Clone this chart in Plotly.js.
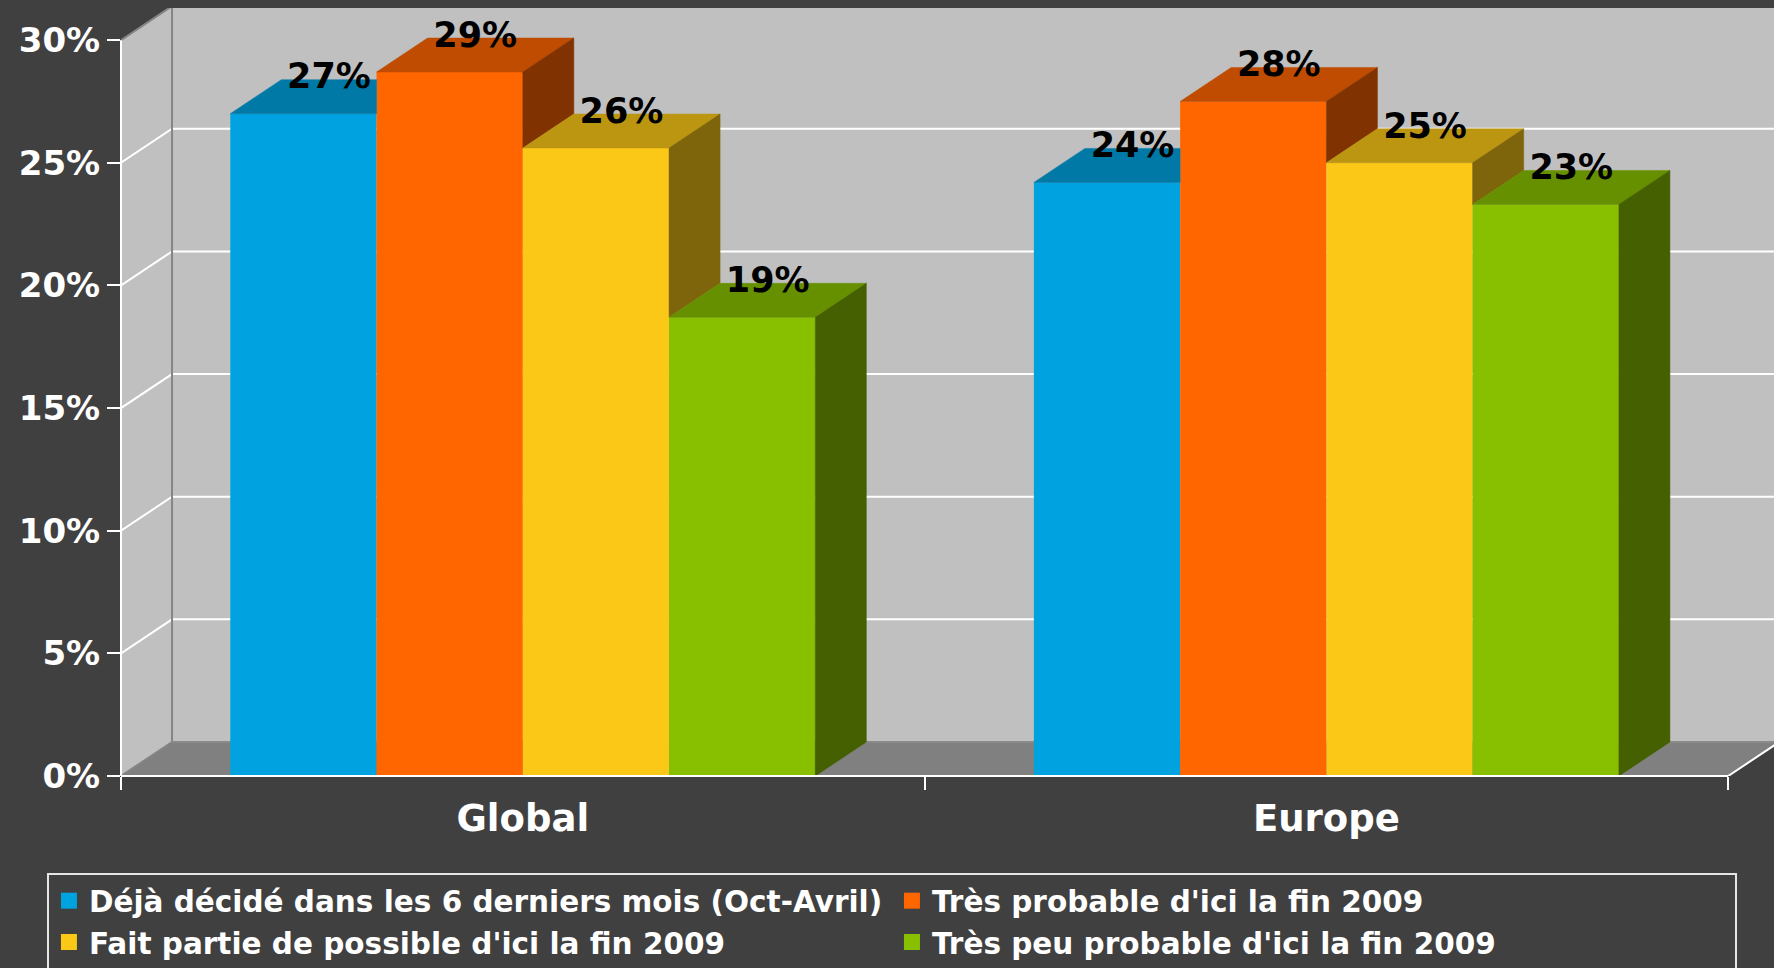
<!DOCTYPE html>
<html><head><meta charset="utf-8">
<script src="https://cdn.plot.ly/plotly-3.0.1.min.js"></script>
<style>html,body{margin:0;padding:0;background:#404040;}#chart{width:1774px;height:968px;}</style>
</head><body><div id="chart"></div>
<script>
// ---------- data ----------
const categories = ['Global', 'Europe'];
const seriesNames = [
  "Déjà décidé dans les 6 derniers mois (Oct-Avril)",
  "Très probable d'ici la fin 2009",
  "Fait partie de possible d'ici la fin 2009",
  "Très peu probable d'ici la fin 2009"
];
const dejaDecide      = [27.0, 24.2];
const tresProbable    = [28.7, 27.5];
const faitPartie      = [25.6, 25.0];
const tresPeuProbable = [18.7, 23.3];
const yTickValues = [0, 5, 10, 15, 20, 25, 30];
const yTickLabels = ['0%', '5%', '10%', '15%', '20%', '25%', '30%'];

// ---------- styles ----------
const frontColors = ['#00A2DF', '#FF6600', '#FCC817', '#88C000'];
const topColors   = ['#0079A7', '#BF4C00', '#BD9611', '#669000'];
const sideColors  = ['#005170', '#803300', '#7E640B', '#446000'];
const FONT = 'DejaVu Sans, Verdana, sans-serif';

const series = [dejaDecide, tresProbable, faitPartie, tresPeuProbable];
const catX = categories.map((c, i) => i);
const BW = 0.182;          // bar width (x units)
const DX = 0.0635;         // depth offset x (x units)
const DY = 1.386;          // depth offset y (percent units)
const X0 = -0.5, X1 = 1.5, XR = 1.557;
const YTOP = 30, YR = 31.31;
const XW = XR + 0.2;

const traces = [];

// front faces: real bar traces
series.forEach((vals, k) => {
  traces.push({
    type: 'bar', x: catX, y: vals, width: BW, offset: (k - 2) * BW,
    marker: {color: frontColors[k], line: {width: 0}},
    showlegend: false, hoverinfo: 'skip', name: seriesNames[k]
  });
});

// top & side faces computed from the values (parts hidden by the next bar removed)
series.forEach((vals, k) => {
  vals.forEach((v, i) => {
    const L = catX[i] + (k - 2) * BW, R = L + BW;
    const vnext = k < series.length - 1 ? series[k + 1][i] : 0;
    let tx, ty;
    if (vnext >= v + DY) {
      tx = [L, R, R, L + DX, L];
      ty = [v, v, v + DY, v + DY, v];
    } else if (vnext > v) {
      const xi = R + (vnext - v) / DY * DX;
      tx = [L, R, R, xi, R + DX, L + DX, L];
      ty = [v, v, vnext, vnext, v + DY, v + DY, v];
    } else {
      tx = [L, R, R + DX, L + DX, L];
      ty = [v, v, v + DY, v + DY, v];
    }
    traces.push({
      type: 'scatter', mode: 'lines', fill: 'toself', fillcolor: topColors[k],
      line: {width: 0.5, color: topColors[k]},
      x: tx, y: ty, showlegend: false, hoverinfo: 'skip'
    });
    const vs = Math.min(vnext, v);
    if (vs < v) {
      traces.push({
        type: 'scatter', mode: 'lines', fill: 'toself', fillcolor: sideColors[k],
        line: {width: 0.5, color: sideColors[k]},
        x: [R, R + DX, R + DX, R, R],
        y: [vs, vs + DY, v + DY, v, vs],
        showlegend: false, hoverinfo: 'skip'
      });
    }
  });
});

// value labels
series.forEach((vals, k) => {
  traces.push({
    type: 'scatter', mode: 'text',
    x: catX.map(c => c + (k - 2) * BW + BW / 2 + DX / 2),
    y: vals.map(v => v + DY),
    text: vals.map(v => Math.round(v) + '%'),
    textposition: 'middle center',
    textfont: {family: FONT, size: 35, color: '#000000', weight: 'bold'},
    cliponaxis: false, showlegend: false, hoverinfo: 'skip'
  });
});

// legend entries
series.forEach((vals, k) => {
  traces.push({
    type: 'scatter', mode: 'markers', x: [null], y: [null], name: seriesNames[k],
    marker: {symbol: 'square', size: 16, color: frontColors[k]},
    showlegend: true, hoverinfo: 'skip'
  });
});

// ---------- 3D frame ----------
const shapes = [];
const below = (o) => Object.assign({xref: 'x', yref: 'y', layer: 'below'}, o);
shapes.push(below({type: 'path', path: `M${X0},0 L${X1},0 L${X1 + DX},${DY} L${X0 + DX},${DY} Z`,
  fillcolor: '#808080', line: {width: 0}}));
shapes.push(below({type: 'rect', x0: X0 + DX, x1: XW, y0: DY, y1: YTOP + DY,
  fillcolor: '#C0C0C0', line: {width: 0}}));
shapes.push(below({type: 'path', path: `M${X0},0 L${X0 + DX},${DY} L${X0 + DX},${YTOP + DY} L${X0},${YTOP} Z`,
  fillcolor: '#C0C0C0', line: {width: 0}}));
yTickValues.filter(v => v > 0 && v < YTOP).forEach(v => {
  shapes.push(below({type: 'path', path: `M${X0},${v} L${X0 + DX},${v + DY} L${XW},${v + DY}`,
    line: {color: '#FFFFFF', width: 2}}));
});
shapes.push(below({type: 'path', path: `M${X0},${YTOP} L${X0 + DX},${YTOP + DY} L${XW},${YTOP + DY}`,
  line: {color: '#858585', width: 2}}));
shapes.push(below({type: 'path', path: `M${X0},0 L${X0 + DX},${DY} L${X0 + DX},${YTOP + DY}`,
  line: {color: '#858585', width: 2}}));
shapes.push(below({type: 'path', path: `M${X0 + DX},${DY} L${XW},${DY}`,
  line: {color: '#8A8A8A', width: 2}}));
shapes.push(below({type: 'path', path: `M${X1},0 L${X1 + DX},${DY}`,
  line: {color: '#FFFFFF', width: 2}}));
// axis lines
shapes.push({type: 'line', xref: 'x', yref: 'paper', x0: X0, x1: X1, y0: 0, y1: 0,
  line: {color: '#FFFFFF', width: 2}, layer: 'above'});
shapes.push({type: 'line', xref: 'paper', yref: 'y', x0: 0, x1: 0, y0: 0, y1: YTOP,
  line: {color: '#FFFFFF', width: 2}, layer: 'above'});

const layout = {
  width: 1774, height: 968,
  paper_bgcolor: '#404040', plot_bgcolor: '#404040',
  margin: {l: 121, r: 0, t: 8, b: 192, autoexpand: false},
  barmode: 'overlay',
  showlegend: true,
  xaxis: {
    range: [X0, XR], showgrid: false, zeroline: false, showline: false,
    tickmode: 'array', tickvals: catX, ticktext: categories,
    ticks: '', ticklabelstandoff: 17,
    tickfont: {family: FONT, size: 37, color: '#FFFFFF', weight: 'bold'},
    minor: {tickmode: 'array', tickvals: [X0, 0.5, X1], ticks: 'outside', ticklen: 13,
            tickwidth: 2, tickcolor: '#FFFFFF', showgrid: false},
    fixedrange: true
  },
  yaxis: {
    range: [0, YR], showgrid: false, zeroline: false, showline: false,
    tickmode: 'array', tickvals: yTickValues, ticktext: yTickLabels,
    ticks: 'outside', ticklen: 13, tickwidth: 2, tickcolor: '#FFFFFF',
    ticklabelstandoff: 0,
    tickfont: {family: FONT, size: 34, color: '#FFFFFF', weight: 'bold'},
    fixedrange: true
  },
  legend: {
    orientation: 'h', x: -0.0448, xanchor: 'left', y: -0.1263, yanchor: 'top',
    entrywidth: 798, entrywidthmode: 'pixels',
    bgcolor: 'rgba(0,0,0,0)', bordercolor: '#E6E6E6', borderwidth: 2,
    font: {family: FONT, size: 29.5, color: '#FFFFFF', weight: 'bold'},
    traceorder: 'normal'
  },
  shapes: shapes
};

Plotly.newPlot('chart', traces, layout, {displayModeBar: false, staticPlot: true});
</script>
</body></html>
